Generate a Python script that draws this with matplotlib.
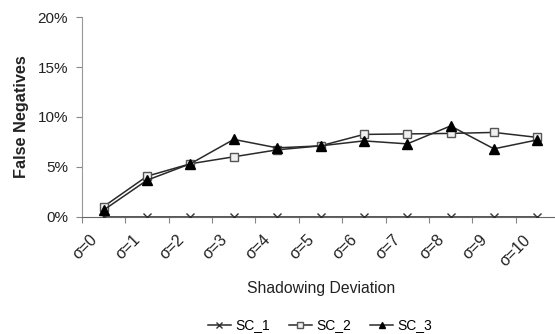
import matplotlib.pyplot as plt
from matplotlib.ticker import PercentFormatter
from matplotlib.transforms import offset_copy

# data (percent)
categories = ["σ=0", "σ=1", "σ=2", "σ=3", "σ=4", "σ=5",
              "σ=6", "σ=7", "σ=8", "σ=9", "σ=10"]
sc_1 = [0, 0, 0, 0, 0, 0, 0, 0, 0, 0, 0]
sc_2 = [1.0, 4.05, 5.3, 6.0, 6.7, 7.1, 8.25, 8.3, 8.35, 8.45, 7.95]
sc_3 = [0.65, 3.65, 5.3, 7.75, 6.9, 7.1, 7.6, 7.3, 9.1, 6.8, 7.7]

plt.rcParams["font.family"] = ["Liberation Sans", "DejaVu Sans"]

fig = plt.figure(figsize=(5.55, 3.34), dpi=100)
ax = fig.add_axes([82 / 555, 1 - 216.5 / 334, 477 / 555, 199 / 334])

x = list(range(len(categories)))
line_color = "#2a2a2a"
ax.plot(x, sc_1, color=line_color, lw=1.1, marker="x", ms=6, mew=1.0,
        mec="#333333", label="SC_1", zorder=3)
ax.plot(x, sc_2, color=line_color, lw=1.1, marker="s", ms=6, mew=1.0,
        mfc="#f0f0f0", mec="#555555", label="SC_2", zorder=4)
ax.plot(x, sc_3, color=line_color, lw=1.1, marker="^", ms=6.5,
        mfc="black", mec="black", label="SC_3", zorder=5)

ax.set_xlim(-0.5, len(categories) - 0.5)
ax.set_ylim(0, 20)
ax.set_yticks([0, 5, 10, 15, 20])
ax.yaxis.set_major_formatter(PercentFormatter(decimals=0))

# tick marks sit between categories, labels are rotated under each category
ax.set_xticks([i - 0.5 for i in range(len(categories) + 1)])
ax.set_xticklabels([])
label_trans = offset_copy(ax.get_xaxis_transform(), fig=fig, x=-9, y=-21,
                          units="dots")
for xi, cat in zip(x, categories):
    ax.text(xi, 0, cat, transform=label_trans, rotation=45, ha="right",
            va="center", rotation_mode="anchor", fontsize=11.5,
            color="#222222")

ax.tick_params(axis="x", length=4, direction="out", color="#888888",
               width=0.8)
ax.tick_params(axis="y", length=4, direction="out", color="#888888",
               width=0.8, labelsize=11, labelcolor="#222222", pad=6)

for side in ("top", "right"):
    ax.spines[side].set_visible(False)
ax.spines["left"].set_color("#999999")
ax.spines["bottom"].set_color("#666666")
ax.spines["left"].set_linewidth(0.8)

ax.set_ylabel("False Negatives", fontsize=11.7, fontweight="bold",
              color="#222222", labelpad=6)
fig.text(321 / 555, 1 - 288 / 334, "Shadowing Deviation", ha="center",
         va="center", fontsize=11.3, color="#222222")

fig.legend(loc="center", bbox_to_anchor=(320 / 555, 1 - 325.5 / 334), ncol=3,
           frameon=False, fontsize=10, handlelength=1.65, handletextpad=0.3,
           columnspacing=1.4, markerscale=0.7, borderpad=0.1)

fig.savefig("out.png", dpi=100)
